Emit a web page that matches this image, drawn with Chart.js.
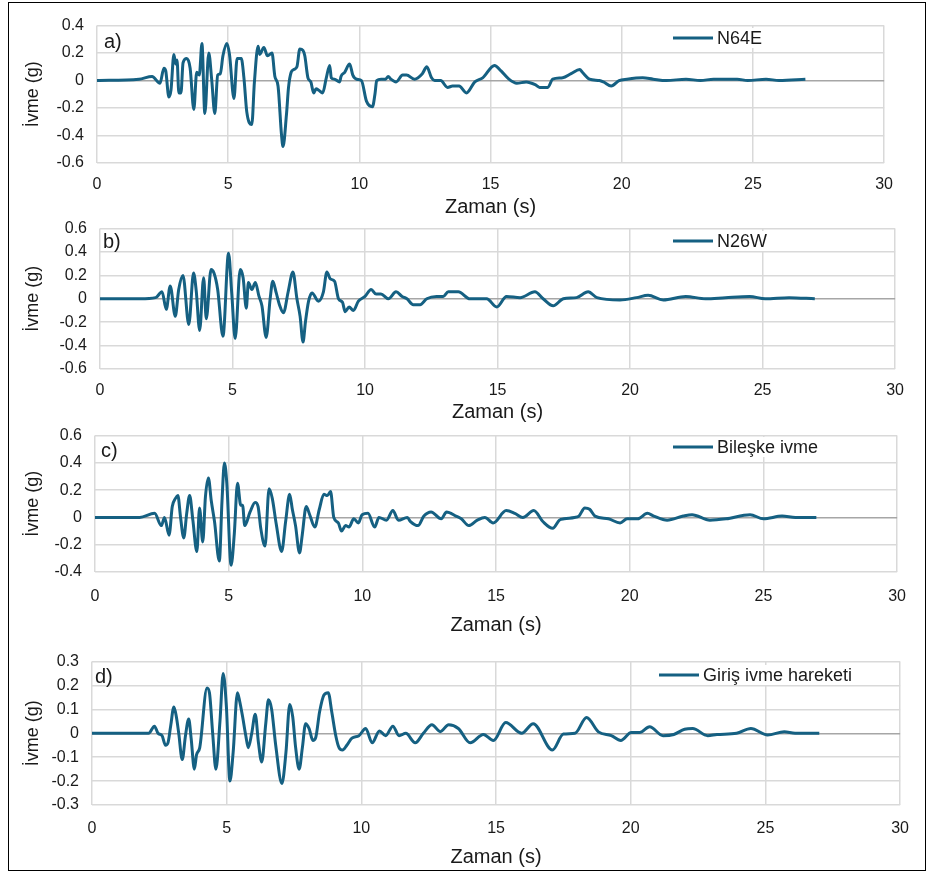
<!DOCTYPE html>
<html>
<head>
<meta charset="utf-8">
<script src="https://cdn.jsdelivr.net/npm/chart.js@4.4.0/dist/chart.umd.min.js"></script>
<style>
  body { margin: 0; background: #fff; }
  #frame { position: absolute; left: 8px; top: 2px; width: 916px; height: 867px; border: 1.5px solid #000; }
  canvas { position: absolute; left: 8px; }
</style>
</head>
<body>
<div id="frame"></div>
<canvas id="cA" width="897" height="216" style="top:3px"></canvas>
<canvas id="cB" width="908" height="218" style="top:206px"></canvas>
<canvas id="cC" width="913" height="224" style="top:413px"></canvas>
<canvas id="cD" width="915" height="230" style="top:639px"></canvas>
<script>
// a) N64E
const tA = [0, 1.6, 2.1, 2.4, 2.55, 2.62, 2.74, 2.82, 2.93, 3.0, 3.05, 3.12, 3.2, 3.28, 3.42, 3.55, 3.69, 3.8, 3.9, 4.0, 4.11, 4.26, 4.37, 4.49, 4.6, 4.7, 4.8, 4.95, 5.05, 5.22, 5.34, 5.5, 5.6, 5.71, 5.9, 6.0, 6.14, 6.2, 6.36, 6.5, 6.67, 6.78, 6.9, 7.03, 7.09, 7.22, 7.3, 7.4, 7.5, 7.62, 7.73, 7.85, 7.92, 8.04, 8.15, 8.26, 8.35, 8.45, 8.6, 8.74, 8.87, 8.93, 9.05, 9.25, 9.3, 9.44, 9.63, 9.75, 9.9, 10.08, 10.27, 10.5, 10.6, 10.66, 10.83, 11.0, 11.1, 11.2, 11.4, 11.65, 11.8, 12.1, 12.4, 12.57, 12.75, 12.87, 13.1, 13.36, 13.55, 13.8, 14.08, 14.4, 14.7, 15.15, 15.4, 15.7, 16.0, 16.36, 16.7, 16.87, 17.18, 17.37, 17.75, 18.07, 18.4, 18.5, 18.77, 19.15, 19.3, 19.6, 19.9, 20.2, 20.8, 21.2, 21.7, 22.45, 23.0, 23.5, 24.4, 24.8, 25.5, 26.0, 27.0];
const aA = [0, 0.01, 0.03, -0.02, 0.09, 0.07, -0.12, -0.07, 0.19, 0.12, 0.15, -0.09, -0.09, 0.13, 0.16, 0.09, -0.21, 0.06, 0.04, 0.27, -0.24, 0.2, 0.01, -0.24, 0.04, 0.05, 0.18, 0.27, 0.19, -0.13, 0.16, 0.16, 0.02, -0.23, -0.32, -0.01, 0.25, 0.19, 0.24, 0.18, 0.2, 0.03, -0.04, -0.39, -0.48, -0.25, -0.05, 0.06, 0.08, 0.1, 0.23, 0.22, 0.18, 0.02, -0.01, -0.09, -0.06, -0.07, -0.09, 0.02, 0.11, 0.02, 0.01, -0.01, 0.03, 0.06, 0.12, 0.04, 0.01, 0.0, -0.15, -0.19, -0.09, 0.0, 0.01, 0.01, 0.03, 0.01, -0.01, 0.04, 0.04, 0.01, 0.05, 0.1, 0.02, 0.0, 0.0, -0.05, -0.04, -0.04, -0.09, -0.01, 0.02, 0.11, 0.07, 0.01, -0.02, -0.01, -0.03, -0.05, -0.05, 0.01, 0.02, 0.05, 0.08, 0.06, 0.01, 0.0, -0.01, -0.04, 0.0, 0.01, 0.02, 0.01, 0.0, 0.01, 0.0, 0.01, 0.01, 0.0, 0.01, 0.0, 0.01];

// b) N26W
const tB = [0, 1.52, 2.1, 2.34, 2.5, 2.65, 2.84, 2.97, 3.13, 3.35, 3.53, 3.63, 3.76, 3.91, 4.01, 4.19, 4.3, 4.44, 4.64, 4.85, 4.97, 5.1, 5.29, 5.4, 5.52, 5.6, 5.73, 5.86, 6.0, 6.11, 6.27, 6.42, 6.52, 6.65, 6.77, 6.92, 7.1, 7.28, 7.43, 7.55, 7.66, 7.75, 7.87, 8.0, 8.24, 8.43, 8.56, 8.69, 8.85, 9.0, 9.15, 9.25, 9.4, 9.56, 9.75, 10.0, 10.23, 10.42, 10.6, 10.88, 11.17, 11.4, 11.58, 11.82, 12.08, 12.33, 12.7, 12.95, 13.14, 13.52, 13.96, 14.59, 14.97, 15.34, 15.85, 16.41, 16.72, 17.1, 17.48, 17.98, 18.42, 18.75, 19.62, 20.24, 20.68, 21.25, 22.1, 22.85, 23.6, 24.51, 25.1, 26.0, 26.97];
const aB = [0, 0, 0.01, 0.06, -0.09, 0.11, -0.15, 0.08, 0.2, -0.22, 0.22, 0.07, -0.27, 0.18, -0.17, 0.25, 0.22, 0.08, -0.32, 0.39, 0.05, -0.34, 0.25, 0.18, -0.08, 0.14, 0.08, 0.14, 0.02, -0.06, -0.33, 0.0, 0.15, 0.05, -0.05, -0.12, 0.06, 0.23, 0.0, -0.15, -0.37, -0.2, -0.02, 0.05, -0.02, 0.06, 0.23, 0.17, 0.15, 0.0, -0.03, -0.11, -0.07, -0.1, -0.02, 0.02, 0.08, 0.04, 0.04, 0.0, 0.06, 0.02, 0.0, -0.05, -0.05, 0.0, 0.02, 0.02, 0.06, 0.06, 0.0, 0.0, -0.07, 0.02, 0.01, 0.06, 0.0, -0.06, 0.0, 0.01, 0.06, 0.01, -0.01, 0.01, 0.03, -0.01, 0.02, 0.0, 0.01, 0.02, 0.0, 0.01, 0.0];

// c) Bileşke ivme
const tC = [0, 1.67, 2.23, 2.48, 2.6, 2.77, 2.89, 3.01, 3.1, 3.2, 3.32, 3.43, 3.54, 3.66, 3.81, 3.91, 4.03, 4.13, 4.24, 4.35, 4.47, 4.65, 4.75, 4.84, 4.93, 5.09, 5.21, 5.33, 5.45, 5.52, 5.6, 5.8, 5.99, 6.1, 6.2, 6.36, 6.51, 6.63, 6.78, 6.98, 7.13, 7.28, 7.38, 7.5, 7.65, 7.75, 7.9, 8.03, 8.22, 8.39, 8.56, 8.69, 8.81, 8.93, 9.1, 9.22, 9.37, 9.5, 9.68, 9.85, 9.99, 10.21, 10.46, 10.62, 10.9, 11.14, 11.35, 11.68, 11.8, 12.08, 12.3, 12.57, 12.95, 13.15, 13.5, 13.7, 13.98, 14.3, 14.58, 14.89, 15.38, 15.7, 16.0, 16.41, 16.75, 17.12, 17.37, 17.55, 17.93, 18.1, 18.32, 18.5, 18.7, 19.2, 19.64, 19.9, 20.3, 20.66, 20.9, 21.4, 22.0, 22.33, 23.0, 23.6, 24.5, 25.0, 25.7, 26.2, 26.98];
const aC = [0, 0, 0.03, -0.06, 0.0, -0.13, 0.08, 0.14, 0.16, 0.0, -0.15, 0.03, 0.16, -0.02, -0.25, 0.07, -0.18, 0.15, 0.29, 0.12, -0.03, -0.32, 0.12, 0.4, 0.25, -0.35, -0.12, 0.25, 0.09, 0.09, -0.06, 0.04, 0.11, 0.08, -0.08, -0.21, 0.21, 0.14, -0.05, -0.25, -0.03, 0.17, 0.06, -0.06, -0.26, -0.13, 0.08, 0.02, -0.07, 0.06, 0.17, 0.16, 0.19, 0.0, -0.04, -0.1, -0.06, -0.07, -0.01, -0.04, 0.02, 0.03, -0.07, 0.0, -0.02, 0.05, -0.02, 0.0, -0.03, -0.06, 0.01, 0.04, -0.01, 0.04, 0.01, -0.01, -0.06, -0.02, 0.0, -0.04, 0.05, 0.03, 0.0, 0.05, -0.03, -0.08, -0.02, -0.01, 0.0, 0.01, 0.07, 0.06, 0.01, -0.01, -0.04, -0.01, -0.01, 0.03, 0.01, -0.02, 0.01, 0.02, -0.02, -0.01, 0.02, -0.01, 0.01, 0.0, 0.0];

// d) Giriş ivme hareketi
const tD = [0, 1.77, 2.1, 2.32, 2.45, 2.6, 2.73, 2.82, 2.92, 3.04, 3.13, 3.22, 3.35, 3.47, 3.59, 3.68, 3.8, 3.88, 4.0, 4.27, 4.36, 4.48, 4.6, 4.75, 4.87, 4.99, 5.12, 5.24, 5.4, 5.49, 5.59, 5.71, 5.8, 5.93, 6.06, 6.18, 6.3, 6.45, 6.55, 6.67, 6.82, 7.05, 7.2, 7.34, 7.45, 7.56, 7.69, 7.81, 7.93, 8.06, 8.2, 8.3, 8.45, 8.61, 8.77, 8.9, 9.05, 9.17, 9.3, 9.46, 9.65, 9.91, 10.16, 10.4, 10.67, 10.9, 11.17, 11.4, 11.65, 12.0, 12.3, 12.62, 12.93, 13.24, 13.6, 14.04, 14.53, 14.9, 15.36, 15.95, 16.38, 17.09, 17.5, 17.93, 18.36, 18.8, 19.28, 19.63, 20.02, 20.33, 20.7, 21.2, 21.6, 22.0, 22.3, 22.86, 23.2, 23.93, 24.46, 25.08, 25.7, 26.1, 27.0];
const aD = [0, 0, 0.0, 0.03, 0.0, -0.01, -0.05, -0.04, 0.03, 0.11, 0.07, 0.0, -0.11, -0.01, 0.06, -0.02, -0.15, -0.09, -0.06, 0.19, 0.17, 0.0, -0.15, 0.05, 0.25, 0.11, -0.2, -0.08, 0.17, 0.13, 0.07, -0.01, -0.06, 0.0, 0.08, -0.04, -0.12, 0.04, 0.14, 0.1, -0.05, -0.21, -0.08, 0.12, 0.07, -0.06, -0.15, -0.06, 0.04, 0.02, -0.03, -0.02, 0.09, 0.16, 0.17, 0.09, -0.01, -0.06, -0.07, -0.05, -0.02, -0.01, 0.02, -0.04, 0.01, -0.01, 0.03, -0.01, 0.0, -0.04, 0.0, 0.036, 0.007, 0.036, 0.02, -0.04, -0.005, -0.03, 0.045, 0.0, 0.04, -0.07, -0.003, 0.0, 0.066, 0.006, -0.01, -0.03, 0.003, 0.003, 0.027, -0.01, -0.005, 0.017, 0.02, -0.01, -0.005, 0.0, 0.02, -0.007, 0.006, 0.0, 0.0];

const LINE = '#156082';
const GRID = '#d9d9d9';
const ZERO = '#a6a6a6';
const TEXT = '#1a1a1a';

Chart.defaults.font.family = '"Liberation Sans", Arial, sans-serif';

// panel tag "a)" plus the small legend box inside the plot
const panelMarks = {
  id: 'panelMarks',
  afterDraw(chart, args, o) {
    const ctx = chart.ctx;
    const label = chart.data.datasets[0].label;
    ctx.save();
    ctx.textBaseline = 'middle';
    ctx.font = '18px "Liberation Sans", Arial, sans-serif';
    const w = ctx.measureText(label).width;
    ctx.fillStyle = '#fff';
    ctx.fillRect(o.legX - 6, o.legY - 10, w + 56, 20);
    ctx.strokeStyle = LINE;
    ctx.lineWidth = 3;
    ctx.beginPath();
    ctx.moveTo(o.legX, o.legY);
    ctx.lineTo(o.legX + 40, o.legY);
    ctx.stroke();
    ctx.fillStyle = TEXT;
    ctx.fillText(label, o.legX + 44, o.legY + 1);
    ctx.font = '20px "Liberation Sans", Arial, sans-serif';
    ctx.fillText(o.tag, o.tagX, o.tagY);
    ctx.restore();
  }
};

function makeChart(id, t, a, name, p) {
  new Chart(document.getElementById(id), {
    type: 'line',
    data: {
      datasets: [{
        label: name,
        data: t.map((x, i) => ({ x: x, y: a[i] })),
        borderColor: LINE,
        borderWidth: 3,
        pointRadius: 0,
        cubicInterpolationMode: 'monotone',
        fill: false
      }]
    },
    options: {
      responsive: false,
      animation: false,
      devicePixelRatio: 1,
      layout: { padding: { top: 10, right: 20, left: 0, bottom: 0 } },
      plugins: {
        legend: { display: false },
        tooltip: { enabled: false },
        panelMarks: p.marks
      },
      scales: {
        x: {
          type: 'linear', min: 0, max: 30,
          ticks: { stepSize: 5, padding: p.xPad, font: { size: 16 }, color: TEXT, maxRotation: 0 },
          grid: { color: GRID, lineWidth: 1.5, drawTicks: false },
          border: { display: false },
          title: { display: true, text: 'Zaman (s)', font: { size: 20 }, color: TEXT, padding: 0 },
          afterFit: s => { s.height = p.xH; }
        },
        y: {
          min: p.ymin, max: p.ymax,
          ticks: { stepSize: p.step, padding: 13, font: { size: 16 }, color: TEXT,
                   callback: v => String(Math.round(v * 10) / 10) },
          grid: { color: c => (c.tick && Math.abs(c.tick.value) < 1e-9) ? ZERO : GRID, lineWidth: 1.5, drawTicks: false },
          border: { display: false },
          title: { display: true, text: 'İvme (g)', font: { size: 18 }, color: TEXT, padding: { top: 14, bottom: 0 } },
          afterFit: s => { s.width = p.yW; }
        }
      }
    },
    plugins: [panelMarks]
  });
}

makeChart('cA', tA, aA, 'N64E', { ymin: -0.6, ymax: 0.4, step: 0.2, yW: 89, xH: 56, xPad: 12,
  marks: { tag: 'a)', tagX: 96, tagY: 39, legX: 665, legY: 35 } });
makeChart('cB', tB, aB, 'N26W', { ymin: -0.6, ymax: 0.6, step: 0.2, yW: 92, xH: 55, xPad: 12,
  marks: { tag: 'b)', tagX: 95, tagY: 36, legX: 665, legY: 35 } });
makeChart('cC', tC, aC, 'Bileşke ivme', { ymin: -0.4, ymax: 0.6, step: 0.2, yW: 87, xH: 65, xPad: 15,
  marks: { tag: 'c)', tagX: 93, tagY: 38, legX: 665, legY: 34 } });
makeChart('cD', tD, aD, 'Giriş ivme hareketi', { ymin: -0.3, ymax: 0.3, step: 0.1, yW: 84, xH: 64, xPad: 14,
  marks: { tag: 'd)', tagX: 87, tagY: 38, legX: 651, legY: 36 } });
</script>
</body>
</html>
